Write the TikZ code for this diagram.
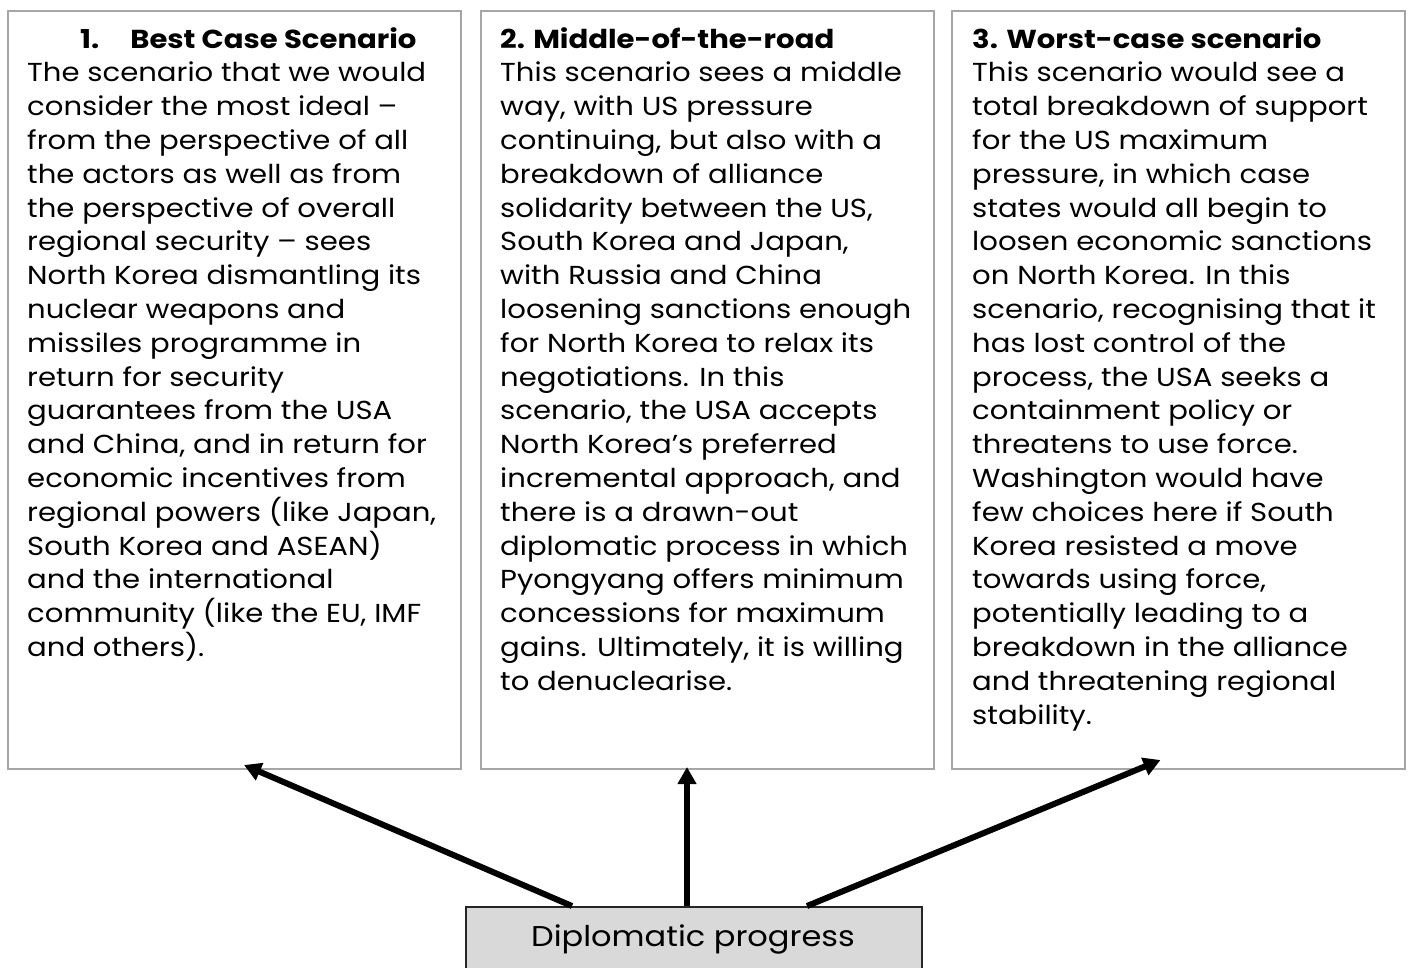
\documentclass[tikz,border=0pt]{standalone}
\usepackage{fontspec}
\setmainfont{Poppins}[FakeStretch=1.12]
\usetikzlibrary{arrows.meta}
\definecolor{boxgray}{HTML}{A6A6A6}
\definecolor{dpfill}{HTML}{D9D9D9}
\definecolor{dpline}{HTML}{262626}
\tikzset{
  scenbox/.style={draw=boxgray, line width=2pt, fill=white, rectangle, anchor=north west, inner sep=0pt, minimum width=453pt, minimum height=758pt},
  dpbox/.style={draw=dpline, line width=2pt, fill=dpfill, rectangle, anchor=north west, inner sep=0pt, minimum width=456pt, minimum height=80pt},
  scentext/.style={anchor=base west, inner sep=0pt},
  arr/.style={line width=6pt, -{Triangle[length=17pt,width=18pt]}},
}
\newcommand{\bodyfont}{\fontsize{26}{33.8}\selectfont}
\newcommand{\dpfont}{\fontsize{28.6}{33.8}\selectfont}
\begin{document}
\begin{tikzpicture}[x=1pt,y=-1pt]
\useasboundingbox (0,0) rectangle (1410,967);
\clip (0,0) rectangle (1410,967);
\node[scenbox] (b1) at (7,10) {};
\node[scenbox] (b2) at (480,10) {};
\node[scenbox] (b3) at (951,10) {};
\node[dpbox] (dp) at (465,906) {};

\node[scentext] (t1) at (27,48) {\begin{minipage}[t]{440pt}\bodyfont\raggedright
\hspace*{53pt}\textbf{1.\hspace{31pt}Best Case Scenario}\\
The scenario that we would\\
consider the most ideal –\\
from the perspective of all\\
the actors as well as from\\
the perspective of overall\\
regional security – sees\\
North Korea dismantling its\\
nuclear weapons and\\
missiles programme in\\
return for security\\
guarantees from the USA\\
and China, and in return for\\
economic incentives from\\
regional powers (like Japan,\\
South Korea and ASEAN)\\
and the international\\
community (like the EU, IMF\\
and others).
\end{minipage}};

\node[scentext] (t2) at (500,48) {\begin{minipage}[t]{440pt}\bodyfont\raggedright
\textbf{2. Middle-of-the-road}\\
This scenario sees a middle\\
way, with US pressure\\
continuing, but also with a\\
breakdown of alliance\\
solidarity between the US,\\
South Korea and Japan,\\
with Russia and China\\
loosening sanctions enough\\
for North Korea to relax its\\
negotiations. In this\\
scenario, the USA accepts\\
North Korea’s preferred\\
incremental approach, and\\
there is a drawn-out\\
diplomatic process in which\\
Pyongyang offers minimum\\
concessions for maximum\\
gains. Ultimately, it is willing\\
to denuclearise.
\end{minipage}};

\node[scentext] (t3) at (972,48) {\begin{minipage}[t]{440pt}\bodyfont\raggedright
\textbf{3. Worst-case scenario}\\
This scenario would see a\\
total breakdown of support\\
for the US maximum\\
pressure, in which case\\
states would all begin to\\
loosen economic sanctions\\
on North Korea. In this\\
scenario, recognising that it\\
has lost control of the\\
process, the USA seeks a\\
containment policy or\\
threatens to use force.\\
Washington would have\\
few choices here if South\\
Korea resisted a move\\
towards using force,\\
potentially leading to a\\
breakdown in the alliance\\
and threatening regional\\
stability.
\end{minipage}};

\node[anchor=base, inner sep=0pt, font=\dpfont] (dpt) at (693,946) {Diplomatic progress};

\draw[arr] ([xshift=-122pt]dp.north) -- ([xshift=9.5pt,yshift=5pt]b1.south);
\draw[arr] ([xshift=-7pt]dp.north) -- ([xshift=-20.5pt,yshift=3pt]b2.south);
\draw[arr] ([xshift=113pt]dp.north) -- ([xshift=-18pt,yshift=10pt]b3.south);
\end{tikzpicture}
\end{document}
